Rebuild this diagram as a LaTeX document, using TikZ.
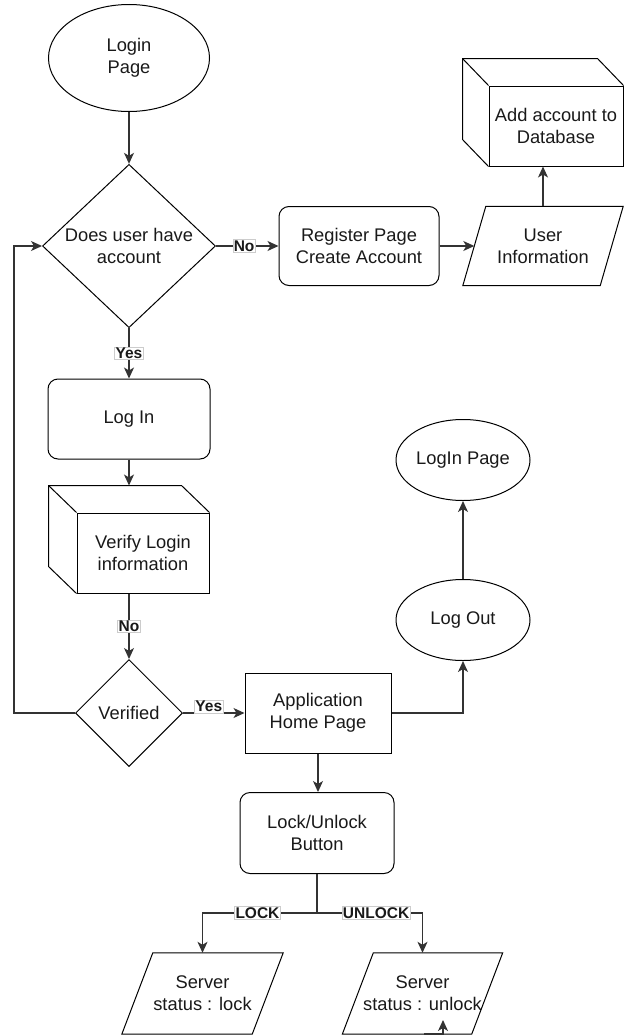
\documentclass[tikz,border=0pt]{standalone}
\usepackage{fontspec}
\setmainfont{Liberation Sans}
\usetikzlibrary{arrows.meta, positioning, calc, shapes.geometric}

\begin{document}
\begin{tikzpicture}[x=1pt, y=-1pt,
  every node/.style={font=\fontsize{18.3}{21.7}\selectfont, align=center, text=black!90},
  line/.style={line width=1.2pt, draw=black!80},
  arr/.style={line, -{Stealth[length=11pt,width=10pt,inset=3pt]}},
  term/.style={ellipse, draw, line width=1pt, inner sep=0pt},
  proc/.style={rectangle, rounded corners=10pt, draw, line width=1pt},
  dec/.style={diamond, draw, line width=1pt, inner sep=0pt},
  box/.style={rectangle, draw, line width=1pt},
  io/.style={rectangle, inner sep=0pt},
  lbl/.style={font=\bfseries\fontsize{15.5}{17}\selectfont, fill=white, draw=black!20, line width=0.5pt, inner sep=1pt}]
  \useasboundingbox (0,0) rectangle (628,1036);
  % start and first decision
  \node[term, minimum width=161, minimum height=107] (login) at (129,58) {Login\\Page};
  \node[dec, minimum width=173, minimum height=158] (account) at (129,246) {Does user have\\account};
  % registration branch
  \node[proc, minimum width=160, minimum height=79] (register) at (359,246) {Register Page\\Create Account};
  \node[io, minimum width=137, minimum height=79] (info) at (543,246) {User\\Information};
  \node[box, minimum width=134, minimum height=80] (dbadd) at (556,126) {Add account to\\Database};
  % login branch
  \node[proc, minimum width=162, minimum height=80] (loginbox) at (129,419) {Log In};
  \node[box, minimum width=132, minimum height=80] (verify) at (143,553) {Verify Login\\information};
  \node[dec, minimum width=107, minimum height=107] (verified) at (129,713) {Verified};
  \node[box, minimum width=146, minimum height=80] (app) at (318,713) {Application\\Home Page};
  % log out side
  \node[term, minimum width=134, minimum height=81] (logout) at (463,620) {Log Out};
  \node[term, minimum width=134, minimum height=81] (loginpage) at (463,460) {LogIn Page};
  % lock / unlock
  \node[proc, minimum width=154, minimum height=81] (lockbtn) at (317,833) {Lock/Unlock\\Button};
  \node[io, minimum width=130, minimum height=81] (srvlock) at (202.5,993.5) {Server\\status : lock};
  \node[io, minimum width=129, minimum height=81] (srvunlock) at (422.5,993.5) {Server\\status : unlock};
  % parallelogram outlines
  \foreach \n/\s in {info/11.5, srvlock/15.5, srvunlock/15.5}
    \draw[line width=1pt] ($(\n.south west)+(-\s,0)$) -- ($(\n.north west)+(\s,0)$)
      -- ($(\n.north east)+(\s,0)$) -- ($(\n.south east)+(-\s,0)$) -- cycle;
  % cube backs
  \foreach \n/\dx/\dy in {dbadd/26/27, verify/28/27}{
    \draw[line width=1pt] (\n.south west) -- ++(-\dx,-\dy) |- ($(\n.north east)+(-\dx,-\dy)$) -- (\n.north east);
    \draw[line width=1pt] (\n.north west) -- ++(-\dx,-\dy);
  }
  \coordinate (verifytop) at ($(verify.north)+(-28,-27)$);
  \coordinate (split) at ($(lockbtn.south)+(0,39)$);
  \coordinate (stubA) at (424,1034);
  \coordinate (stubB) at (443,1020);
  % connectors
  \draw[arr] (login) -- (account);
  \draw[arr] (account.east) -- node[lbl, pos=0.45]{No} (register.west);
  \draw[arr] (register.east) -- (info.west);
  \draw[arr] (info.north) -- (info.north |- dbadd.south);
  \draw[arr] (account.south) -- node[lbl]{Yes} (loginbox.north);
  \draw[arr] (loginbox.south) -- (loginbox.south |- verifytop);
  \draw[arr] (verified.north |- verify.south) -- node[lbl]{No} (verified.north);
  \draw[arr] (verified.east) -- node[lbl, above=0pt, pos=0.42]{Yes} (app.west);
  \draw[arr] (verified.west) -- ++(-61,0) |- (account.west);
  \draw[arr] (app.east) -| (logout.south);
  \draw[arr] (logout) -- (loginpage);
  \draw[arr] (app.south) -- (app.south |- lockbtn.north);
  \draw[line] (lockbtn.south) -- (split);
  \draw[arr] (split) -| node[lbl, pos=0.26]{LOCK} (srvlock.north);
  \draw[arr] (split) -| node[lbl, pos=0.28]{UNLOCK} (srvunlock.north);
  \draw[arr] (stubA) -| (stubB);
\end{tikzpicture}
\end{document}
